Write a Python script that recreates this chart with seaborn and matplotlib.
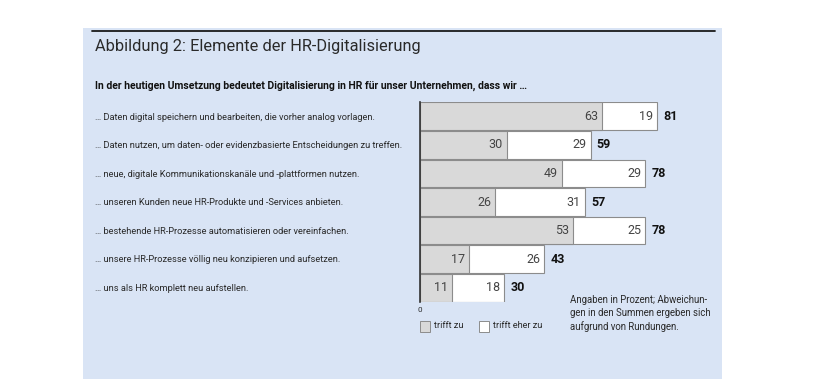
import pandas as pd
import matplotlib
matplotlib.use('Agg')
import matplotlib.pyplot as plt
import seaborn as sns
from matplotlib.patches import Rectangle

sns.set_style("white")
plt.rcParams['font.family'] = ['Roboto', 'DejaVu Sans']

# datos
aussagen = [
    "… Daten digital speichern und bearbeiten, die vorher analog vorlagen.",
    "… Daten nutzen, um daten- oder evidenzbasierte Entscheidungen zu treffen.",
    "… neue, digitale Kommunikationskanäle und -plattformen nutzen.",
    "… unseren Kunden neue HR-Produkte und -Services anbieten.",
    "… bestehende HR-Prozesse automatisieren oder vereinfachen.",
    "… unsere HR-Prozesse völlig neu konzipieren und aufsetzen.",
    "… uns als HR komplett neu aufstellen.",
]
trifft_zu = [63, 30, 49, 26, 53, 17, 11]
trifft_eher_zu = [19, 29, 29, 31, 25, 26, 18]
summe = [81, 59, 78, 57, 78, 43, 30]

df = pd.DataFrame({'aussage': aussagen, 'zu': trifft_zu,
                   'eher': trifft_eher_zu, 'summe': summe})
df['stack'] = df['zu'] + df['eher']

BG = '#d9e4f5'
GRIS = '#d9d9d9'
BORDE = '#8c8c8c'
TXT = '#2a2a2a'

fig = plt.figure(figsize=(8.2, 3.9), dpi=100)
fig.patch.set_facecolor('white')
W, H = 820, 390

def fx(px):
    return px / W

def fy(py):
    return 1 - py / H

# panel azul
fig.patches.append(Rectangle((fx(83), fy(379)), fx(722) - fx(83), fy(28) - fy(379),
                             transform=fig.transFigure, facecolor=BG, edgecolor='none', zorder=-5))
fig.add_artist(plt.Line2D([fx(92), fx(715)], [fy(31), fy(31)], color='#1a1a1a', lw=1.3))

fig.text(fx(95), fy(47), 'Abbildung 2: Elemente der HR-Digitalisierung',
         fontsize=11.8, color=TXT, va='center')
fig.text(fx(95), fy(86), 'In der heutigen Umsetzung bedeutet Digitalisierung in HR für unser Unternehmen, dass wir …',
         fontsize=7.5, fontweight='bold', color='#111111', va='center')

ax = fig.add_axes([fx(420), fy(302), fx(709) - fx(420), fy(102) - fy(302)])
ax.set_facecolor('none')
ax.set_zorder(2)

sns.barplot(data=df, x='stack', y='aussage', color='white', edgecolor=BORDE,
            linewidth=0.8, width=0.97, ax=ax, orient='h')
sns.barplot(data=df, x='zu', y='aussage', color=GRIS, edgecolor=BORDE,
            linewidth=0.8, width=0.97, ax=ax, orient='h')

ax.set_xlim(0, 100)
ax.set_ylim(6.5, -0.5)
ax.set_xlabel('')
ax.set_ylabel('')
ax.set_xticks([])
ax.set_yticks([])
for s in ['top', 'right', 'bottom']:
    ax.spines[s].set_visible(False)
ax.spines['left'].set_color('#333333')
ax.spines['left'].set_linewidth(1.2)

for i, row in df.iterrows():
    ax.text(row['zu'] - 1.4, i, str(row['zu']), ha='right', va='center',
            fontsize=9, color='#444444')
    ax.text(row['stack'] - 1.4, i, str(row['eher']), ha='right', va='center',
            fontsize=9, color='#444444')
    ax.text(row['stack'] + 2.2, i, str(row['summe']), ha='left', va='center',
            fontsize=9, fontweight='bold', color='#111111')
    fig.text(fx(95), fy(117 + i * 28.6), row['aussage'], fontsize=6.65,
             color=TXT, va='center')

fig.text(fx(418), fy(310), '0', fontsize=5.8, color=TXT, va='center')

# leyenda
for x0, lab, col in [(420, 'trifft zu', GRIS), (479, 'trifft eher zu', 'white')]:
    fig.patches.append(Rectangle((fx(x0), fy(332)), fx(10), fy(0) - fy(11),
                                 transform=fig.transFigure, facecolor=col,
                                 edgecolor=BORDE, lw=0.7))
    fig.text(fx(x0 + 14), fy(326), lab, fontsize=6.6, color=TXT, va='center')

nota = ['Angaben in Prozent; Abweichun-', 'gen in den Summen ergeben sich',
        'aufgrund von Rundungen.']
for k, t in enumerate(nota):
    fig.text(fx(570), fy(300 + k * 13.5), t, fontsize=6.9, color=TXT, va='center')

plt.savefig('out.png', dpi=100, facecolor='white')
plt.close()
